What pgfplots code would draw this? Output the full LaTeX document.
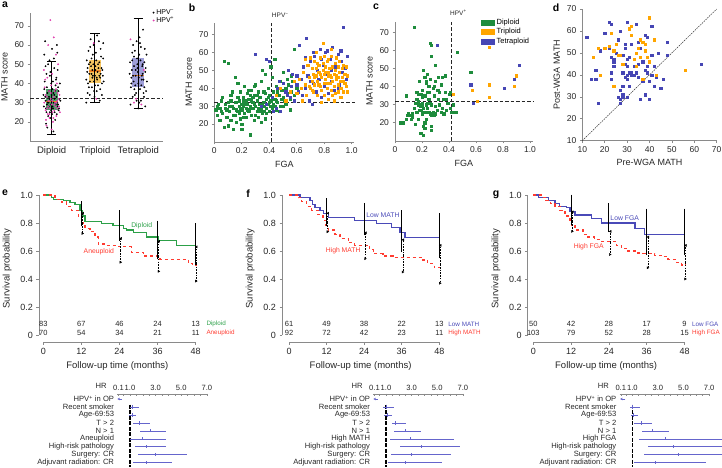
\documentclass[border=0pt]{standalone}
\usepackage{fontspec}
\setmainfont{Liberation Sans}
\usepackage{pgfplots}
\pgfplotsset{compat=1.18}
\usepgfplotslibrary{statistics}
\usetikzlibrary{arrows.meta}
\definecolor{sgreen}{HTML}{1E8C3C}
\definecolor{sorange}{HTML}{FFA500}
\definecolor{sblue}{HTML}{4646B4}
\definecolor{smag}{HTML}{E040B0}
\definecolor{kgreen}{HTML}{2CA048}
\definecolor{kred}{HTML}{FF3B30}
\definecolor{kblue}{HTML}{4A4AB8}
\definecolor{fblue}{HTML}{6565CC}
\definecolor{axgray}{HTML}{8A8A8A}
\definecolor{boxg}{HTML}{2F8F4F}
\definecolor{boxo}{HTML}{F5C050}
\definecolor{boxb}{HTML}{9595D5}
\definecolor{medo}{HTML}{F08020}
\pgfplotsset{
  /pgf/number format/assume math mode=true,
  base/.style={scale only axis, clip=false, axis x line*=bottom, axis y line*=left,
    axis line style={-, draw=axgray, line width=0.6pt}, tick align=outside, major tick length=2.5pt,
    tick style={draw=axgray, line width=0.6pt},
    tick label style={font=\fontsize{8.5}{9}\selectfont, text=black!85},
    label style={font=\fontsize{9}{10}\selectfont, text=black!85}},
  scat/.style={only marks, mark=square*, mark size=1.1pt},
  dline/.style={black!85, line width=1pt, dash pattern=on 3.5pt off 2pt},
  km/.style={base, width=#1, height=147pt, ymin=-0.05, ymax=1, xmax=48,
    xtick={0,12,24,36,48}, ytick={0,0.2,0.4,0.6,0.8,1}, yticklabels={0,0.2,0.4,0.6,0.8,1.0},
    y axis line style={shorten <=7pt},
    tick label style={font=\fontsize{9}{10}\selectfont},
    label style={font=\fontsize{9.5}{11}\selectfont},
    ylabel style={yshift=2pt},
    xlabel={Follow-up time (months)}, ylabel={Survival probability}},
  forest/.style={scale only axis, clip=false, width=89.6pt, height=72.7pt, xmin=0, xmax=7, ymin=-9.5, ymax=-0.37,
    axis x line*=top, axis y line*=left, y axis line style={draw=none}, ytick style={draw=none},
    ytick={-9,...,-1}, xtick={0.1,1,3,5,7}, xticklabels={0.1,1.0,3.0,5.0,7.0}, minor xtick={0.5,1,...,7},
    tick align=inside, major tick length=2.5pt, minor tick length=2pt,
    x axis line style={-, draw=axgray, line width=0.5pt}, xtick style={draw=axgray, line width=0.5pt},
    tick label style={font=\fontsize{7.6}{8}\selectfont, text=black!85},
    yticklabel style={inner sep=0pt, xshift=-3pt}},
  ci/.style={only marks, mark=|, mark size=1.6pt, color=fblue, mark options={line width=0.7pt},
    error bars/.cd, x dir=both, x explicit, error mark=none, error bar style={fblue, line width=0.6pt}},
  ebs/.style={draw=none, mark=none, forget plot, error bars/.cd, y dir=both, y explicit,
    error bar style={black, line width=0.9pt}, error mark options={black, mark size=2pt, line width=0.9pt}},
  ebd/.style={draw=none, mark=none, forget plot, error bars/.cd, y dir=both, y explicit, error mark=triangle*,
    error bar style={black, line width=0.9pt, dash pattern=on 1.5pt off 1.2pt}, error mark options={black, solid, mark size=1.2pt}},
}
\newcommand{\rk}{\fontsize{7.5}{8}\selectfont\color{black!85}}
\newcommand{\lb}{\fontsize{6.8}{8}\selectfont}
\newcommand{\rl}{\fontsize{6.3}{7}\selectfont}
\newcommand{\risk}[4]{\node[font=\rk] at (axis cs:#1,#2) {#3};\node[font=\rk] at (axis cs:#1,0.014) {#4};}
\begin{document}
\begin{tikzpicture}
\useasboundingbox (0,0) rectangle (722pt,467pt);
% ---------------- a
\begin{axis}[base, at={(30pt,326pt)}, anchor=south west, width=133pt, height=128pt,
  xmin=0.5, xmax=3.57, ymin=10, ymax=76.7, ytick={20,30,...,70},
  xtick={1,2,3}, xticklabels={Diploid,Triploid,Tetraploid}, xtick style={draw=none},
  xticklabel style={font=\fontsize{9.5}{10}\selectfont},
  ylabel={MATH score},
  boxplot/draw direction=y, boxplot/box extend=0.28, boxplot/whisker extend=0.22,
  boxplot/every whisker/.style={black, line width=1pt},
  boxplot/every median/.style={draw=medo, line width=1.3pt},
  legend style={draw=none, fill=none, at={(1.1,1.045)}, anchor=north east, font=\fontsize{7}{8}\selectfont, row sep=-3pt, inner sep=0pt},
  legend cell align=left]
\addplot[forget plot, boxplot prepared={median=30.5, upper quartile=37, lower quartile=26, upper whisker=51.5, lower whisker=13.5, draw position=1},
  boxplot/every box/.style={draw=none, fill=boxg, fill opacity=0.85}] coordinates {};
\addplot[forget plot, boxplot prepared={median=46.5, upper quartile=52, lower quartile=40, upper whisker=66, lower whisker=30, draw position=2},
  boxplot/every box/.style={draw=none, fill=boxo, fill opacity=0.9}] coordinates {};
\addplot[forget plot, boxplot prepared={median=44, upper quartile=53.5, lower quartile=38, upper whisker=74, lower whisker=27, draw position=3},
  boxplot/every box/.style={draw=none, fill=boxb, fill opacity=0.9}] coordinates {};
\addplot[forget plot, black, line width=1pt] coordinates {(1,13.5)(1,51.5)};
\addplot[forget plot, black, line width=1pt] coordinates {(2,30)(2,66)};
\addplot[forget plot, black, line width=1pt] coordinates {(3,27)(3,74)};
\addplot[only marks, mark=*, mark size=0.7pt, black] coordinates {
(0.82,28)(0.85,33)(0.88,25)(0.91,30)(0.94,36)(0.97,22)(1.0,31)(1.03,27)(1.06,34)(1.09,29)(1.12,24)(1.15,38)(1.18,32)
(0.84,41)(0.87,19)(0.9,35)(0.93,28)(0.96,44)(0.99,26)(1.02,37)(1.05,30)(1.08,21)(1.11,33)(1.14,47)(1.17,27)
(0.83,55)(0.86,31)(0.89,38)(0.92,23)(0.95,52)(0.98,29)(1.01,58)(1.04,35)(1.07,25)(1.1,42)(1.13,30)(1.16,36)
(0.81,34)(0.88,45)(0.95,32)(1.02,28)(1.09,39)(1.16,26)(0.85,62)(0.92,50)(0.99,40)(1.06,48)(1.13,56)(1.2,31)
(0.87,27)(0.94,33)(1.01,24)(1.08,36)(1.15,29)(0.9,17)(1.04,15)(1.11,43)(0.97,46)(1.19,40)(0.83,37)(1.05,53)
(0.93,30)(1.0,34)(1.07,32)(1.14,28)(0.86,49)(1.12,60)(0.96,25)(1.03,41)(0.89,29)
(1.8,42)(1.83,48)(1.86,38)(1.89,51)(1.92,45)(1.95,55)(1.98,41)(2.01,47)(2.04,36)(2.07,50)(2.1,44)(2.13,58)(2.16,40)(2.19,53)
(1.82,46)(1.85,57)(1.88,34)(1.91,49)(1.94,43)(1.97,60)(2.0,39)(2.03,52)(2.06,46)(2.09,62)(2.12,37)(2.15,48)(2.18,44)
(1.81,52)(1.84,40)(1.87,45)(1.9,63)(1.93,38)(1.96,50)(1.99,33)(2.02,56)(2.05,42)(2.08,48)(2.11,31)(2.14,54)(2.17,47)(2.2,41)
(1.83,35)(1.89,59)(1.95,44)(2.01,49)(2.07,39)(2.13,45)(2.19,61)(1.86,50)(1.92,53)(1.98,36)(2.04,43)(2.1,51)(2.16,34)
(1.8,30)(2.05,65)(1.94,47)(2.0,44)(2.12,43)(1.88,41)
(2.8,45)(2.83,38)(2.86,52)(2.89,41)(2.92,57)(2.95,35)(2.98,48)(3.01,43)(3.04,61)(3.07,39)(3.1,50)(3.13,33)(3.16,46)(3.19,55)
(2.82,29)(2.85,47)(2.88,60)(2.91,37)(2.94,44)(2.97,53)(3.0,40)(3.03,64)(3.06,31)(3.09,49)(3.12,42)(3.15,58)(3.18,36)
(2.81,51)(2.84,43)(2.87,33)(2.9,54)(2.93,39)(2.96,62)(2.99,46)(3.02,30)(3.05,52)(3.08,44)(3.11,68)(3.14,38)(3.17,48)(3.2,41)
(2.86,56)(2.92,34)(2.98,50)(3.04,37)(3.1,45)(3.16,28)(2.84,40)(2.9,49)(2.96,31)(3.02,55)(3.08,42)(3.14,51)(3.0,27)(3.06,59)
(2.94,47)(3.12,35)(2.88,44)};
\addplot[only marks, mark=*, mark size=0.7pt, smag] coordinates {
(0.83,30)(0.86,26)(0.89,33)(0.92,28)(0.95,24)(0.98,35)(1.01,31)(1.04,22)(1.07,29)(1.1,37)(1.13,27)(1.16,32)(1.19,25)
(0.84,38)(0.87,21)(0.9,43)(0.93,31)(0.96,27)(0.99,39)(1.02,25)(1.05,33)(1.08,30)(1.11,23)(1.14,35)(1.17,28)
(0.82,47)(0.88,18)(0.94,36)(1.0,29)(1.06,26)(1.12,40)(1.18,34)(0.97,73)(1.05,64)(0.92,60)(1.1,55)(0.85,42)
(1.01,45)(1.15,50)(0.91,24)(0.98,32)(1.03,20)(1.09,28)(0.86,34)(1.13,31)(0.95,22)(1.07,36)(1.0,16)(0.89,27)(1.11,30)
(2.03,32)(1.97,61)(2.82,63)(2.95,32)(3.07,29)(2.9,30)(3.13,47)};
\legend{HPV\textsuperscript{−},HPV\textsuperscript{+}}
\addplot[dline, forget plot] coordinates {(0.5,32)(3.57,32)};
\end{axis}
% ---------------- b
\begin{axis}[base, at={(214.3pt,325.1pt)}, anchor=south west, width=140.1pt, height=119.2pt,
  xmin=0, xmax=1.02, ymin=10, ymax=76.6, ytick={20,30,...,70},
  xtick={0,0.2,0.4,0.6,0.8,1}, xticklabels={0,0.2,0.4,0.6,0.8,1.0},
  xlabel={FGA}, ylabel={MATH score}]
\addplot[scat, sgreen] coordinates {
(0.01,28)(0.02,25)(0.03,31)(0.04,22)(0.05,27)(0.06,35)(0.07,55)(0.08,29)(0.09,24)(0.1,54)(0.1,19)(0.11,27)(0.12,33)(0.12,22)
(0.13,30)(0.14,25)(0.14,17)(0.15,32)(0.15,46)(0.16,28)(0.16,21)(0.17,35)(0.17,43)(0.18,30)(0.18,26)(0.19,38)(0.19,23)(0.2,31)
(0.2,28)(0.2,20)(0.21,35)(0.21,33)(0.22,26)(0.22,41)(0.23,29)(0.23,24)(0.24,37)(0.24,31)(0.25,27)(0.25,34)(0.26,14)(0.26,30)
(0.27,39)(0.27,25)(0.28,32)(0.28,29)(0.29,22)(0.29,36)(0.3,30)(0.3,42)(0.31,27)(0.31,33)(0.32,38)(0.32,24)(0.33,31)(0.33,35)
(0.34,28)(0.34,44)(0.35,26)(0.35,50)(0.36,32)(0.36,30)(0.37,37)(0.37,23)(0.38,34)(0.38,29)(0.39,40)(0.39,31)(0.4,27)(0.4,36)
(0.41,33)(0.41,30)(0.42,46)(0.42,29)(0.43,38)(0.43,31)(0.44,56)(0.44,34)(0.45,28)(0.45,41)(0.46,32)(0.47,36)(0.48,30)(0.48,44)
(0.49,39)(0.5,35)(0.5,49)(0.51,33)(0.52,40)(0.53,37)(0.54,42)(0.55,34)(0.56,38)(0.57,44)(0.58,62)(0.58,36)(0.6,40)(0.55,28)
(0.47,27)(0.05,33)(0.08,31)(0.13,38)(0.18,33)(0.22,31)(0.26,29)(0.3,25)(0.33,27)(0.36,38)(0.4,32)(0.44,30)(0.28,35)(0.24,28)
(0.19,29)(0.16,32)(0.11,30)(0.06,26)(0.02,30)(0.35,31)(0.31,36)(0.27,33)(0.23,33)(0.21,24)(0.15,25)(0.09,28)(0.38,26)(0.42,35)
(0.46,38)(0.5,30)(0.53,45)(0.41,52)(0.37,48)(0.29,41)(0.25,39)(0.12,36)(0.34,21)(0.2,17)(0.07,18)(0.14,29)(0.17,27)(0.26,36)
(0.32,29)(0.39,35)(0.43,27)(0.1,32)(0.04,29)(0.21,30)(0.29,31)(0.36,27)(0.45,33)(0.52,31)(0.56,47)(0.49,34)};
\addplot[scat, sblue] coordinates {
(0.3,59)(0.34,30)(0.38,56)(0.38,31)(0.4,55)(0.42,35)(0.43,27)(0.45,29)(0.47,44)(0.48,27)(0.5,43)(0.52,38)(0.54,50)(0.55,35)
(0.57,48)(0.58,33)(0.6,42)(0.61,38)(0.62,64)(0.63,45)(0.64,36)(0.65,52)(0.66,40)(0.67,68)(0.68,47)(0.69,33)(0.7,55)(0.71,31)
(0.72,43)(0.73,58)(0.74,38)(0.75,50)(0.76,45)(0.77,62)(0.78,35)(0.79,53)(0.8,41)(0.81,60)(0.82,48)(0.83,37)(0.84,56)(0.85,44)
(0.86,63)(0.87,39)(0.88,52)(0.89,46)(0.9,59)(0.91,42)(0.92,55)(0.93,49)(0.94,74)(0.95,51)(0.96,45)(0.97,58)(0.56,41)(0.66,57)
(0.72,60)(0.82,61)(0.9,40)(0.78,56)(0.6,47)(0.53,36)(0.46,40)(0.7,44)(0.85,50)(0.92,61)};
\addplot[scat, sorange] coordinates {
(0.45,36)(0.48,40)(0.52,33)(0.55,38)(0.6,37)(0.62,45)(0.63,40)(0.65,49)(0.66,42)(0.67,36)(0.68,53)(0.69,46)(0.7,40)(0.71,51)
(0.71,44)(0.72,48)(0.72,38)(0.73,55)(0.73,42)(0.74,47)(0.74,51)(0.75,36)(0.75,44)(0.76,53)(0.76,49)(0.77,41)(0.77,57)(0.78,46)
(0.78,39)(0.79,50)(0.79,54)(0.8,43)(0.8,48)(0.8,36)(0.81,52)(0.81,45)(0.82,40)(0.82,55)(0.83,49)(0.83,47)(0.83,34)(0.84,51)
(0.84,43)(0.85,46)(0.85,58)(0.85,39)(0.86,52)(0.86,44)(0.87,48)(0.87,41)(0.88,54)(0.88,37)(0.88,50)(0.89,45)(0.89,47)(0.9,42)
(0.9,52)(0.9,38)(0.91,49)(0.91,55)(0.92,44)(0.92,40)(0.93,51)(0.93,46)(0.94,53)(0.94,38)(0.95,48)(0.95,43)(0.96,52)(0.97,38)
(0.97,47)(0.79,65)(0.74,60)(0.85,62)(0.7,57)(0.66,56)(0.64,33)(0.58,44)(0.78,32)(0.87,33)(0.92,35)(0.8,58)(0.76,42)(0.83,56)
(0.89,57)(0.86,36)(0.82,43)(0.77,48)(0.73,46)(0.69,41)(0.94,44)(0.96,41)(0.9,46)(0.84,47)(0.81,49)(0.75,54)(0.71,39)};
\addplot[dline] coordinates {(0,32)(1.03,32)};
\addplot[dline] coordinates {(0.42,10)(0.42,76.6)};
\node[font=\fontsize{6.5}{7}\selectfont, text=black!85] at (axis cs:0.48,80.5) {HPV\textsuperscript{−}};
\end{axis}
% ---------------- c
\begin{axis}[base, at={(395pt,326.2pt)}, anchor=south west, width=137.7pt, height=119.3pt,
  xmin=0, xmax=1.02, ymin=10, ymax=76, ytick={20,30,...,70},
  xtick={0,0.2,0.4,0.6,0.8,1}, xticklabels={0,0.2,0.4,0.6,0.8,1.0},
  xlabel={FGA}, ylabel={MATH score},
  legend style={draw=none, fill=none, at={(0.99,1.04)}, anchor=north east, font=\fontsize{7.5}{8}\selectfont, row sep=-1.5pt, inner sep=0pt},
  legend cell align=left]
\addplot[scat, sgreen, legend image code/.code={\fill[sgreen] (0pt,-2.5pt) rectangle (13pt,2.5pt);}] coordinates {
(0.04,20)(0.06,20)(0.08,22)(0.09,24)(0.1,25)(0.08,35)(0.12,22)(0.13,23)(0.14,73)(0.14,28)(0.15,19)(0.15,31)(0.16,33)(0.16,37)
(0.16,26)(0.17,30)(0.17,32)(0.17,22)(0.18,30)(0.18,43)(0.18,27)(0.19,29)(0.19,36)(0.19,14)(0.2,30)(0.2,38)(0.2,25)(0.2,31)
(0.21,49)(0.21,28)(0.21,18)(0.21,13)(0.22,45)(0.22,35)(0.22,26)(0.22,17)(0.23,42)(0.23,30)(0.23,22)(0.24,37)(0.24,47)(0.24,28)
(0.25,40)(0.25,26)(0.25,33)(0.26,64)(0.26,44)(0.26,25)(0.27,63)(0.27,57)(0.27,30)(0.27,24)(0.27,18)(0.27,16)(0.28,39)(0.28,26)
(0.29,35)(0.29,24)(0.3,52)(0.3,29)(0.3,25)(0.31,38)(0.31,27)(0.32,45)(0.32,33)(0.33,30)(0.34,41)(0.34,26)(0.35,28)(0.36,33)
(0.36,25)(0.37,46)(0.37,37)(0.38,27)(0.39,31)(0.4,36)(0.41,28)(0.41,37)(0.42,26)(0.45,26)(0.46,59)(0.43,30)(0.3,43)(0.23,43)
(0.17,36)(0.11,24)(0.2,34)(0.24,31)(0.29,40)(0.33,37)(0.38,33)(0.26,31)(0.19,27)(0.13,25)(0.35,45)(0.28,24)(0.32,38)(0.22,20)
(0.25,37)(0.56,48)};
\addplot[scat, sorange, legend image code/.code={\fill[sorange] (0pt,-2.5pt) rectangle (13pt,2.5pt);}] coordinates {
(0.43,36)(0.57,38)(0.61,32)(0.7,41)(0.7,34)(0.7,62)(0.88,40)(0.9,46)};
\addplot[scat, sblue, legend image code/.code={\fill[sblue] (0pt,-2.5pt) rectangle (13pt,2.5pt);}] coordinates {
(0.31,63)(0.56,41)(0.58,31)(0.81,39)(0.88,44)(0.92,52)};
\legend{Diploid,Triploid,Tetraploid}
\addplot[dline, forget plot] coordinates {(0,32)(1.03,32)};
\addplot[dline, forget plot] coordinates {(0.42,10)(0.42,76)};
\node[font=\fontsize{6.5}{7}\selectfont, text=black!85] at (axis cs:0.47,81) {HPV\textsuperscript{+}};
\end{axis}
% ---------------- d
\begin{axis}[base, at={(582.3pt,326.3pt)}, anchor=south west, width=134.4pt, height=131.7pt,
  xmin=10, xmax=70, ymin=10, ymax=70, xtick={10,20,...,70}, ytick={10,20,...,70},
  xlabel={Pre-WGA MATH}, ylabel={Post-WGA MATH}]
\addplot[black!80, line width=0.5pt, dash pattern=on 1.5pt off 1pt] coordinates {(10,10)(70,70)};
\addplot[scat, sblue] coordinates {
(12,57)(14,38)(16,42)(16,38)(17,27)(18,51)(20,59)(22,52)(22,64)(23,63)(23,48)(23,41)(23,38)(24,44)(24,46)(25,50)(26,56)(26,30)
(27,60)(27,33)(27,29)(27,27)(28,31)(28,30)(28,35)(28,41)(29,45)(29,54)(29,52)(29,39)(30,47)(30,44)(30,40)(30,38)(30,30)(30,64)
(31,48)(31,41)(31,35)(32,54)(32,41)(32,40)(33,40)(33,44)(34,63)(34,41)(35,39)(35,45)(35,55)(36,29)(36,52)(37,46)(37,37)(38,58)
(38,42)(38,31)(39,44)(39,41)(39,57)(40,37)(40,29)(41,62)(41,49)(41,40)(42,44)(42,35)(43,39)(44,50)(45,34)(46,38)(48,55)(48,49)
(63,45)(28,49)(26,49)(24,47)};
\addplot[scat, sorange] coordinates {
(15,48)(17,52)(18,40)(20,52)(22,53)(23,59)(24,51)(24,35)(25,54)(26,49)(27,49)(28,45)(31,61)(32,62)(32,58)(33,47)(34,44)(34,50)
(35,52)(36,48)(36,56)(37,55)(38,54)(38,51)(39,48)(40,66)(40,46)(42,56)(43,40)(56,42)(37,38)};
\end{axis}
% ---------------- e
\begin{axis}[km=156.7pt, at={(39pt,125pt)}, anchor=south west, xmin=-1.35, x axis line style={shorten <=4.3pt}]
\addplot[const plot, kgreen, line width=1.3pt] coordinates {(0,1)(2.6,0.983)(3.2,0.97)(6.3,0.96)(8.4,0.945)(10,0.93)(11.6,0.89)(12.4,0.85)(13.1,0.81)(18.4,0.798)(22,0.78)(25.2,0.76)(26.3,0.75)(28.3,0.733)(32.6,0.70)(36.2,0.674)(42,0.638)(47.8,0.638)};
\addplot[const plot, kred, line width=1.3pt, dash pattern=on 3pt off 3pt] coordinates {(0,1)(3.7,0.97)(5.8,0.95)(7.4,0.92)(8.9,0.89)(11,0.85)(12.1,0.80)(13.1,0.76)(14.7,0.74)(16.3,0.70)(17.3,0.65)(20,0.64)(23.6,0.63)(27.8,0.59)(31.5,0.565)(36.8,0.54)(45.7,0.51)(47,0.50)(48.3,0.50)};
\addplot[ebs] coordinates {(12,0.865) +- (0,0.075) (24,0.781) +- (0,0.095) (36,0.6785) +- (0,0.1235) (47.8,0.65) +- (0,0.133)};
\addplot[ebd] coordinates {(12.4,0.7975) +- (0,0.0725) (24.4,0.605) +- (0,0.085) (36.4,0.5625) +- (0,0.1075) (48.2,0.5075) +- (0,0.1225)};
\node[font=\lb, text=kgreen] at (axis cs:31,0.78) {Diploid};
\node[font=\lb, text=kred] at (axis cs:17.5,0.595) {Aneuploid};
\risk{0}{0.079}{83}{70}\risk{12}{0.079}{67}{54}\risk{24}{0.079}{46}{34}\risk{36}{0.079}{24}{21}\risk{48}{0.079}{13}{11}
\node[anchor=west, font=\rl, text=kgreen] at (axis cs:50.3,0.079) {Diploid};
\node[anchor=west, font=\rl, text=kred] at (axis cs:50.3,0.014) {Aneuploid};
\end{axis}
% ---------------- f
\begin{axis}[km=157.3pt, at={(282pt,125pt)}, anchor=south west, xmin=-2.24, x axis line style={shorten <=7pt}]
\addplot[const plot, kblue, line width=1.3pt] coordinates {(0,1)(3.5,0.98)(6.7,0.96)(7.5,0.93)(8.3,0.91)(9.9,0.89)(11,0.87)(12.6,0.838)(21,0.819)(28,0.798)(32.8,0.767)(35.4,0.733)(37,0.698)(48,0.698)};
\addplot[const plot, kred, line width=1.3pt, dash pattern=on 3pt off 3pt] coordinates {(0,1)(3,0.98)(4,0.952)(5.6,0.92)(7.2,0.89)(9.3,0.86)(10.9,0.82)(11.8,0.78)(12.6,0.75)(14.7,0.72)(16.3,0.69)(19,0.66)(21,0.64)(25.8,0.61)(26.9,0.58)(30,0.565)(33.2,0.555)(42.2,0.535)(44.3,0.51)(46.4,0.48)(48.3,0.48)};
\addplot[ebs] coordinates {(12,0.877) +- (0,0.087) (24,0.828) +- (0,0.102) (36,0.7415) +- (0,0.1345) (48,0.7095) +- (0,0.1455)};
\addplot[ebd] coordinates {(12.4,0.804) +- (0,0.066) (24.4,0.6375) +- (0,0.0925) (36.4,0.565) +- (0,0.115) (48.3,0.505) +- (0,0.135)};
\node[text=kblue, font=\lb] at (axis cs:30,0.857) {Low MATH};
\node[text=kred, font=\lb] at (axis cs:17.3,0.6) {High MATH};
\risk{0}{0.079}{61}{92}\risk{12}{0.079}{49}{72}\risk{24}{0.079}{38}{42}\risk{36}{0.079}{22}{23}\risk{48}{0.079}{13}{11}
\node[anchor=west, font=\rl, text=kblue] at (axis cs:49.8,0.079) {Low MATH};
\node[anchor=west, font=\rl, text=kred] at (axis cs:49.8,0.014) {High MATH};
\end{axis}
% ---------------- g
\begin{axis}[km=156.8pt, at={(527.7pt,125pt)}, anchor=south west, xmin=-1.78, x axis line style={shorten <=5.6pt}]
\addplot[const plot, kblue, line width=1.3pt] coordinates {(0,1)(1.6,0.98)(4.8,0.96)(6.9,0.94)(8.3,0.92)(10.6,0.91)(11.6,0.88)(13.2,0.857)(18.5,0.83)(21.7,0.80)(32.3,0.76)(35.4,0.72)(48,0.72)};
\addplot[const plot, kred, line width=1.3pt, dash pattern=on 3pt off 3pt] coordinates {(0,1)(2.7,0.98)(4,0.96)(5.5,0.94)(6.9,0.92)(8.5,0.89)(10.1,0.85)(11.6,0.81)(12.2,0.78)(13.2,0.75)(15.8,0.72)(17.4,0.70)(19.5,0.68)(21.6,0.67)(26.4,0.64)(28,0.62)(30.1,0.60)(32.7,0.585)(34.8,0.58)(38.5,0.57)(40.5,0.56)(42.8,0.54)(45.5,0.52)(47.1,0.50)(48.3,0.50)};
\addplot[ebs] coordinates {(12,0.893) +- (0,0.095) (24,0.838) +- (0,0.088) (36,0.7355) +- (0,0.1525) (48,0.7355) +- (0,0.1525)};
\addplot[ebd] coordinates {(12.4,0.81) +- (0,0.07) (24.4,0.6575) +- (0,0.0825) (36.4,0.59) +- (0,0.11) (48.3,0.52) +- (0,0.12)};
\node[text=kblue, font=\lb] at (axis cs:29,0.838) {Low FGA};
\node[text=kred, font=\lb] at (axis cs:17.6,0.63) {High FGA};
\risk{0}{0.079}{50}{103}\risk{12}{0.079}{42}{79}\risk{24}{0.079}{28}{52}\risk{36}{0.079}{17}{28}\risk{48}{0.079}{9}{15}
\node[anchor=west, font=\rl, text=kblue] at (axis cs:49.3,0.079) {Low FGA};
\node[anchor=west, font=\rl, text=kred] at (axis cs:49.3,0.014) {High FGA};
\end{axis}
% ---------------- forests
\begin{axis}[forest, at={(117.2pt,0.3pt)}, anchor=south west,
  yticklabels={Adjuvant radiation: CR,Surgery: CR,High-risk pathology,Aneuploid,N > 1,T > 2,Age-69:53,Recent smoker,HPV\textsuperscript{+} in OP}]
\addplot[black, line width=1.3pt, dash pattern=on 4pt off 1.5pt] coordinates {(1,-1.7)(1,-9.5)};
\addplot[fblue, line width=0.6pt, -{Stealth[length=2.5pt,width=2.5pt]}] coordinates {(0.35,-1)(0.02,-1)};
\addplot[ci] coordinates {(1.2,-2) += (0.5,0) -= (0.2,0) (1.15,-3) += (0.35,0) -= (0.2,0) (1.75,-4) += (0.85,0) -= (0.55,0)
 (2.6,-5) += (1.2,0) -= (0.85,0) (1.95,-6) += (1.85,0) -= (0.95,0) (2.3,-7) += (1.5,0) -= (0.9,0)
 (2.97,-8) += (2.48,0) -= (1.32,0) (2.3,-9) += (2.0,0) -= (1.1,0)};
\node[anchor=east, font=\fontsize{7.6}{8}\selectfont, text=black!85] at (axis cs:0,-0.37) [yshift=8pt, xshift=-7pt] {HR};
\end{axis}
\begin{axis}[forest, at={(373.2pt,0.3pt)}, anchor=south west,
  yticklabels={Adjuvant radiation: CR,Surgery: CR,High-risk pathology,High MATH,N > 1,T > 2,Age-69:53,Recent smoker,HPV\textsuperscript{+} in OP}]
\addplot[black, line width=1.3pt, dash pattern=on 4pt off 1.5pt] coordinates {(1,-1.7)(1,-9.5)};
\addplot[fblue, line width=0.6pt, -{Stealth[length=2.5pt,width=2.5pt]}] coordinates {(0.35,-1)(0.02,-1)};
\addplot[ci] coordinates {(1.05,-2) += (0.55,0) -= (0.25,0) (1.1,-3) += (0.4,0) -= (0.23,0) (1.73,-4) += (0.83,0) -= (0.23,0)
 (2.5,-5) += (1.26,0) -= (0.9,0) (2.9,-6) += (3.4,0) -= (1.6,0) (3.8,-7) += (3.0,0) -= (1.7,0)
 (2.95,-8) += (3.15,0) -= (1.55,0) (2.5,-9) += (2.9,0) -= (1.35,0)};
\node[anchor=east, font=\fontsize{7.6}{8}\selectfont, text=black!85] at (axis cs:0,-0.37) [yshift=8pt, xshift=-7pt] {HR};
\end{axis}
\begin{axis}[forest, at={(619.5pt,0.3pt)}, anchor=south west,
  yticklabels={Adjuvant radiation: CR,Surgery: CR,High-risk pathology,High FGA,N > 1,T > 2,Age-69:53,Recent smoker,HPV\textsuperscript{+} in OP}]
\addplot[black, line width=1.3pt, dash pattern=on 4pt off 1.5pt] coordinates {(1,-1.7)(1,-9.5)};
\addplot[fblue, line width=0.6pt, -{Stealth[length=2.5pt,width=2.5pt]}] coordinates {(0.45,-1)(0.05,-1)};
\addplot[ci] coordinates {(1.03,-2) += (0.57,0) -= (0.23,0) (1.08,-3) += (0.39,0) -= (0.21,0) (1.73,-4) += (0.83,0) -= (0.6,0)
 (2.6,-5) += (1.3,0) -= (0.87,0) (3.6,-6) += (4.9,0) -= (2.05,0) (4.2,-7) += (4.3,0) -= (2.0,0)
 (4.6,-8) += (3.9,0) -= (2.65,0) (2.83,-9) += (3.93,0) -= (1.7,0)};
\node[anchor=east, font=\fontsize{7.6}{8}\selectfont, text=black!85] at (axis cs:0,-0.37) [yshift=8pt, xshift=-7pt] {HR};
\end{axis}
% panel letters
\node[font=\bfseries\fontsize{10.5}{12}\selectfont] at (5pt,462pt) {a};
\node[font=\bfseries\fontsize{10.5}{12}\selectfont] at (192pt,459pt) {b};
\node[font=\bfseries\fontsize{10.5}{12}\selectfont] at (376pt,460pt) {c};
\node[font=\bfseries\fontsize{10.5}{12}\selectfont] at (556pt,459pt) {d};
\node[font=\bfseries\fontsize{10.5}{12}\selectfont] at (5pt,274pt) {e};
\node[font=\bfseries\fontsize{10.5}{12}\selectfont] at (248pt,273pt) {f};
\node[font=\bfseries\fontsize{10.5}{12}\selectfont] at (496pt,272pt) {g};
\end{tikzpicture}
\end{document}
